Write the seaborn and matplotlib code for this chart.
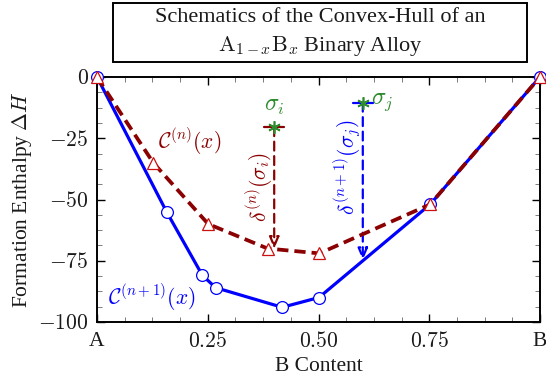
import matplotlib
matplotlib.use("Agg")
import matplotlib.pyplot as plt
import matplotlib.patches as mpatches
import seaborn as sns
import pandas as pd
from matplotlib.ticker import MultipleLocator

# data
hull_n1_x = [0.0, 0.157, 0.238, 0.268, 0.418, 0.501, 0.752, 1.0]
hull_n1_y = [0.0, -55.0, -81.0, -86.0, -94.0, -90.0, -52.0, 0.0]
hull_n_x = [0.0, 0.127, 0.251, 0.385, 0.502, 0.752, 1.0]
hull_n_y = [0.0, -35.0, -60.0, -70.0, -72.0, -52.0, 0.0]
sigma_i = (0.40, -20.5)
sigma_i_end = -70.2
sigma_j = (0.60, -10.5)
sigma_j_end = -74.8
xtick_vals = [0.0, 0.25, 0.5, 0.75, 1.0]
xtick_labels = ["A", "0.25", "0.50", "0.75", "B"]
ytick_vals = [0, -25, -50, -75, -100]

sns.set_theme(style="ticks")
plt.rcParams['font.family'] = ['Liberation Serif', 'DejaVu Serif']
plt.rcParams['mathtext.fontset'] = 'cm'

DARKRED = "#8b0000"
RED = "#cc1010"
BLUE = "#0000ff"
GREEN = "#2e8b2e"
TXT = "#1a1a1a"

W, H = 546, 383
fig = plt.figure(figsize=(5.46, 3.83), dpi=100)
ax = fig.add_axes([97/W, 1-322/H, 443/W, 245/H])

df1 = pd.DataFrame({"x": hull_n1_x, "y": hull_n1_y})
df2 = pd.DataFrame({"x": hull_n_x, "y": hull_n_y})

sns.lineplot(data=df1, x="x", y="y", ax=ax, color=BLUE, lw=2.3, marker="o",
             markersize=8.5, markerfacecolor="white", markeredgecolor=BLUE,
             markeredgewidth=0.9, sort=False, zorder=3, clip_on=False)
sns.lineplot(data=df2, x="x", y="y", ax=ax, color=DARKRED, lw=2.7, marker="^",
             markersize=9, markerfacecolor="white", markeredgecolor=RED,
             markeredgewidth=0.9, sort=False, zorder=4, clip_on=False)
ax.lines[-1].set_linestyle((0, (3.0, 1.6)))

# arrows
ax.annotate("", xy=(sigma_i[0], sigma_i_end), xytext=sigma_i,
            arrowprops=dict(arrowstyle="-|>,head_length=0.6,head_width=0.25", color=DARKRED,
                            lw=1.6, ls=(0, (4, 2.5)), shrinkA=0, shrinkB=0, fill=False))
ax.plot([sigma_i[0]-0.022, sigma_i[0]+0.022], [sigma_i[1]]*2, color=DARKRED, lw=1.6, zorder=5)
ax.annotate("", xy=(sigma_j[0], sigma_j_end), xytext=sigma_j,
            arrowprops=dict(arrowstyle="-|>,head_length=0.6,head_width=0.25", color=BLUE,
                            lw=1.6, ls=(0, (4, 2.5)), shrinkA=0, shrinkB=0, fill=False))
ax.plot([sigma_j[0]-0.022, sigma_j[0]+0.022], [sigma_j[1]]*2, color=BLUE, lw=1.6, zorder=5)
ax.plot([sigma_i[0], sigma_j[0]], [sigma_i[1], sigma_j[1]], ls="none", marker=(6, 2, 0),
        markersize=9, color=GREEN, mew=1.2, zorder=6)

ax.text(sigma_i[0], sigma_i[1] + 4, r"$\sigma_i$", color=GREEN, fontsize=17, ha="center", va="bottom")
ax.text(sigma_j[0] + 0.018, sigma_j[1], r"$\sigma_j$", color=GREEN, fontsize=17, ha="left", va="center")
ax.text(sigma_i[0] - 0.032, -45, r"$\delta^{(n)}(\sigma_i)$", color=DARKRED, fontsize=15.5,
        rotation=90, ha="center", va="center")
ax.text(sigma_j[0] - 0.032, -37, r"$\delta^{(n+1)}(\sigma_j)$", color=BLUE, fontsize=15.5,
        rotation=90, ha="center", va="center")
ax.text(0.21, -26.5, r"$\mathcal{C}^{(n)}(x)$", color=DARKRED, fontsize=15.5, ha="center", va="center")
ax.text(0.125, -90, r"$\mathcal{C}^{(n+1)}(x)$", color=BLUE, fontsize=15.5, ha="center", va="center")

ax.set_xlim(0, 1)
ax.set_ylim(-100, 0)
ax.set_xticks(xtick_vals)
ax.set_yticks(ytick_vals)
ax.set_yticklabels([r"$%d$" % v if v == 0 else r"$-%d$" % abs(v) for v in ytick_vals])
ax.set_xticklabels([xtick_labels[0], r"$0.25$", r"$0.50$", r"$0.75$", xtick_labels[4]])
ax.xaxis.set_minor_locator(MultipleLocator(0.0625))
ax.yaxis.set_minor_locator(MultipleLocator(6.25))
ax.tick_params(which="both", direction="in", top=True, right=True, labelsize=15.5,
               colors="black", labelcolor=TXT)
ax.tick_params(axis="x", which="major", pad=7)
ax.tick_params(axis="y", which="major", pad=6)
ax.tick_params(which="major", length=6, width=1.0)
ax.tick_params(which="minor", length=3.5, width=0.6, color="#666666")
for s in ax.spines.values():
    s.set_linewidth(1.4)
    s.set_color("black")
ax.set_xlabel("B Content", fontsize=15.5, labelpad=4, color=TXT)
ax.set_ylabel(r"Formation Enthalpy $\Delta H$", fontsize=15.5, labelpad=3, color=TXT)

# title box
fig.add_artist(mpatches.Rectangle((113/W, 1-62/H), 414/W, 59/H, transform=fig.transFigure,
                                  facecolor="white", edgecolor="black", lw=1.4))
fig.text(320/W, 1-18/H, "Schematics of the Convex-Hull of an", ha="center", va="center",
         fontsize=16, color=TXT)
fig.text(320/W, 1-46/H, r"$\mathrm{A}_{1-x}\mathrm{B}_x$ Binary Alloy", ha="center", va="center",
         fontsize=16, color=TXT)

fig.savefig("out.png", dpi=100)
